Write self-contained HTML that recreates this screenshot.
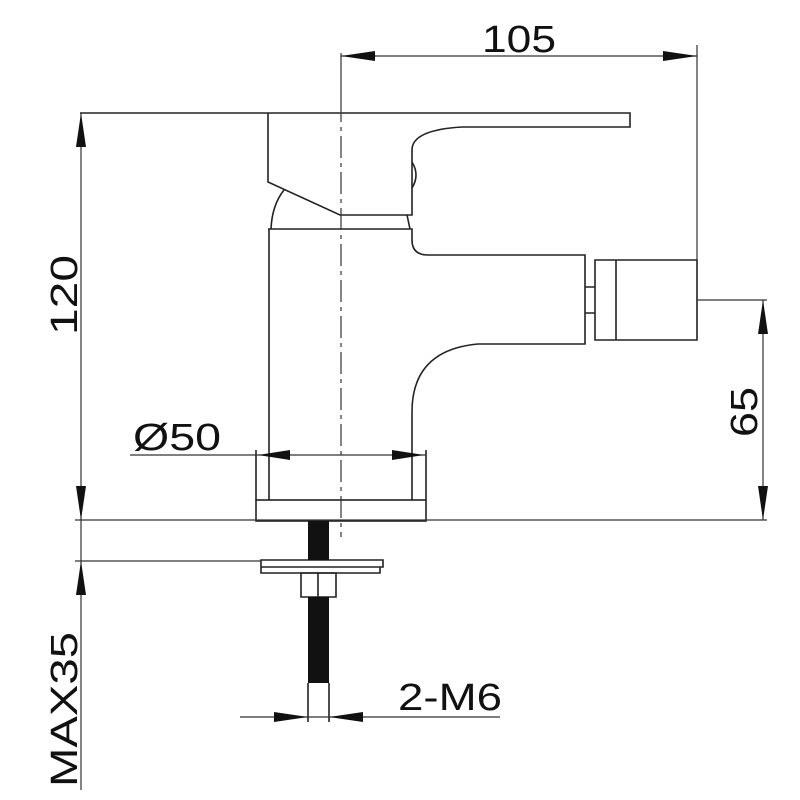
<!DOCTYPE html>
<html><head><style>html,body{margin:0;padding:0;background:#fff}svg{display:block}</style></head>
<body>
<svg width="800" height="800" viewBox="0 0 800 800" xmlns="http://www.w3.org/2000/svg">
<g fill="none" stroke="#222" stroke-width="1.6">
<!-- handle -->
<path d="M80 113 H630 V127 H462 Q412 130 412 150 V215 H340 L268 182 V113"/>
<path d="M412 162 Q420 175 412 188"/>
<path d="M284 190 Q272 205 271 229"/>
<path d="M407 215 L410 229"/>
<!-- body -->
<path d="M268 229 H412 V240 Q412 255 428 255 H585 V344 H478 Q412 350 412 412 V500"/>
<path d="M269 229 V500"/>
<!-- nozzle -->
<path d="M595 260 H697 V340 H595 Z M616 260 V340 M585 287 H595 M585 313 H595"/>
<!-- base -->
<rect x="256" y="500" width="170" height="21"/>
<path d="M256 450 V500 M426 450 V500"/>
<!-- washer and nut -->
<path d="M261 560 H383 V567 H261 Z M261 567 V573 H380 V567"/>
<path d="M301 573 H336 V597 H301 Z M318 573 V597"/>
<!-- rod lower white -->
<path d="M308 683 V722 M329 683 V722"/>
</g>
<rect x="308" y="521" width="21" height="39" fill="#111"/>
<rect x="308" y="597" width="21" height="86" fill="#111"/>
<!-- thin dimension lines -->
<g fill="none" stroke="#333" stroke-width="1.2">
<path d="M341 53 V100"/>
<path d="M341 100 V537" stroke-dasharray="22 5 4 5"/>
<path d="M341 56 H697 M697 45 V298 M697 300 H767 M763 300 V520"/>
<path d="M75 520 H767 M75 561 H261 M81 113 V790"/>
<path d="M130 455 H426"/>
<path d="M240 717 H500"/>
</g>
<g fill="#111">
<!-- 105 arrows -->
<path d="M341 56 L375 51 L375 61 Z"/><path d="M697 56 L663 51 L663 61 Z"/>
<!-- 120 -->
<path d="M81 113 L76 147 L86 147 Z"/><path d="M81 520 L76 486 L86 486 Z"/>
<!-- MAX35 -->
<path d="M81 561 L76 595 L86 595 Z"/>
<!-- 65 -->
<path d="M763 300 L758 334 L768 334 Z"/><path d="M763 520 L758 486 L768 486 Z"/>
<!-- Ø50 -->
<path d="M258 455 L290 450 L290 460 Z"/><path d="M424 455 L392 450 L392 460 Z"/>
<!-- 2-M6 -->
<path d="M308 717 L274 712 L274 722 Z"/><path d="M329 717 L363 712 L363 722 Z"/>
</g>
<g font-family="Liberation Sans, sans-serif" font-size="38" fill="#111">
<text x="482" y="52" textLength="74" lengthAdjust="spacingAndGlyphs">105</text>
<text x="133" y="450" textLength="88" lengthAdjust="spacingAndGlyphs">Ø50</text>
<text x="398" y="710" textLength="104" lengthAdjust="spacingAndGlyphs">2-M6</text>
<text transform="translate(77 335) rotate(-90)" textLength="80" lengthAdjust="spacingAndGlyphs">120</text>
<text transform="translate(757 437) rotate(-90)" textLength="50" lengthAdjust="spacingAndGlyphs">65</text>
<text transform="translate(77 787) rotate(-90)" textLength="155" lengthAdjust="spacingAndGlyphs">MAX35</text>
</g>
</svg>
</body></html>
